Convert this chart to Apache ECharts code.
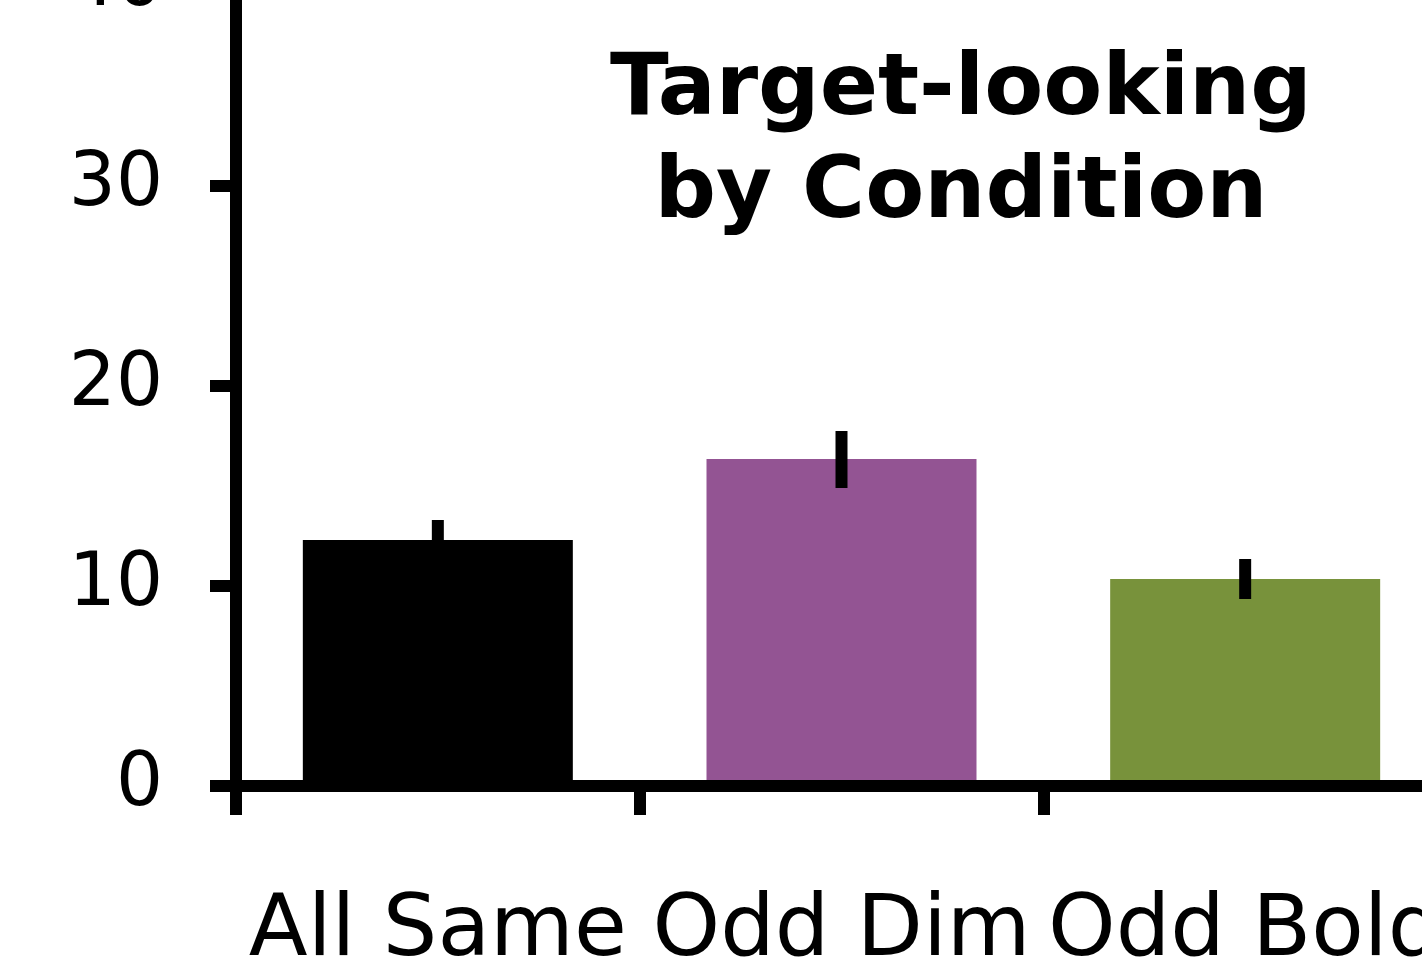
<!DOCTYPE html>
<html>
<head>
<meta charset="utf-8">
<script src="https://cdn.jsdelivr.net/npm/echarts@6/dist/echarts.min.js"></script>
<style>
  html, body { margin: 0; padding: 0; background: #fff; }
  #main { width: 1422px; height: 974px; }
</style>
</head>
<body>
<div id="main"></div>
<script>
// conditions and mean target-looking with error bar ends
var conditions = ['All Same', 'Odd Dim', 'Odd Bold'];
var means = [12.3, 16.35, 10.35];
var errLow = [11.3, 14.9, 9.35];
var errHigh = [13.3, 17.75, 11.35];
var barColors = ['#000000', '#935493', '#78923b'];
var yTicks = [0, 10, 20, 30, 40];

var chartDom = document.getElementById('main');
var myChart = echarts.init(chartDom);
var font = 'DejaVu Sans';

var option = {
  animation: false,
  backgroundColor: '#fff',
  title: {
    text: 'Target-looking\nby Condition',
    left: 961,
    top: 40,
    padding: 0,
    textAlign: 'center',
    textStyle: {
      fontFamily: font,
      fontWeight: 'bold',
      fontSize: 86,
      lineHeight: 103,
      color: '#000'
    }
  },
  grid: {
    left: 236,
    top: -14,
    width: 1211,
    bottom: 188,
    outerBoundsMode: 'none'
  },
  xAxis: {
    type: 'category',
    data: conditions,
    z: 10,
    axisLine: { lineStyle: { color: '#000', width: 12 } },
    axisTick: { show: true, interval: 0, alignWithLabel: false, length: 29, lineStyle: { color: '#000', width: 12 } },
    axisLabel: {
      fontFamily: font,
      fontSize: 86,
      color: '#000',
      margin: 104,
      interval: 0
    }
  },
  yAxis: {
    type: 'value',
    min: yTicks[0],
    max: yTicks[yTicks.length - 1],
    interval: 10,
    z: 10,
    splitLine: { show: false },
    axisLine: { show: true, lineStyle: { color: '#000', width: 12 } },
    axisTick: { show: true, length: 26, lineStyle: { color: '#000', width: 12 } },
    axisLabel: {
      fontFamily: font,
      fontSize: 74,
      color: '#000',
      margin: 73
    }
  },
  series: [
    {
      type: 'bar',
      barWidth: 270,
      data: means.map(function (v, i) {
        return { value: v, itemStyle: { color: barColors[i] } };
      }),
      z: 1
    },
    {
      type: 'custom',
      z: 5,
      data: conditions.map(function (c, i) { return [i, errLow[i], errHigh[i]]; }),
      renderItem: function (params, api) {
        var lo = api.coord([api.value(0), api.value(1)]);
        var hi = api.coord([api.value(0), api.value(2)]);
        return {
          type: 'line',
          shape: { x1: lo[0], y1: lo[1], x2: hi[0], y2: hi[1] },
          style: { stroke: '#000', lineWidth: 12 }
        };
      }
    }
  ]
};
option && myChart.setOption(option);
</script>
</body>
</html>
